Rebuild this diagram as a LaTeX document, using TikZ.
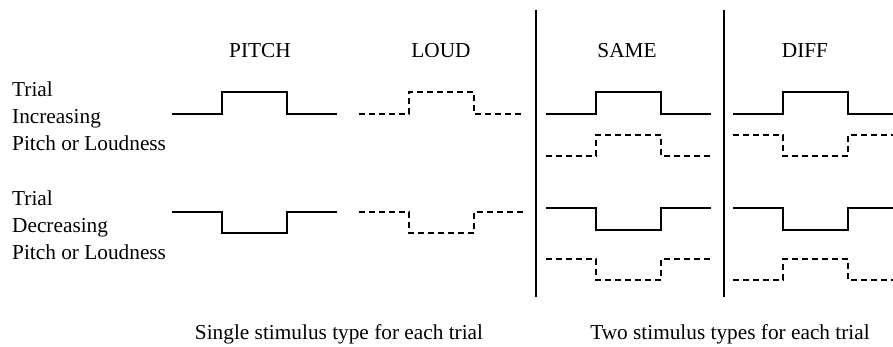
\documentclass[tikz,border=0pt]{standalone}
\usepackage{fontspec}
\setmainfont{Liberation Serif}
\begin{document}
\begin{tikzpicture}[x=1pt,y=-1pt,
  lbl/.style={inner sep=0pt,anchor=base west,font=\fontsize{21.3}{26}\selectfont},
  hdr/.style={inner sep=0pt,anchor=base,font=\fontsize{21.3}{26}\selectfont},
  sig/.style={line width=1.9pt,line join=miter},
  dsig/.style={sig,dash pattern=on 6pt off 4pt},
  divider/.style={line width=2.4pt}]
\clip (0,0) rectangle (893,347);
\fill[white] (0,0) rectangle (893,347);
% headers
\node[hdr] (pitch) at (260,58) {PITCH};
\node[hdr] (loud) at (441,58) {LOUD};
\node[hdr] (same) at (627,58) {SAME};
\node[hdr] (diff) at (805,58) {DIFF};
% row labels
\node[lbl] (t1) at (12,97) {Trial};
\node[lbl] (t2) at (12,124) {Increasing};
\node[lbl] (t3) at (12,151) {Pitch or Loudness};
\node[lbl] (d1) at (12,206) {Trial};
\node[lbl] (d2) at (12,233) {Decreasing};
\node[lbl] (d3) at (12,259) {Pitch or Loudness};
% captions
\node[hdr] (cap1) at (339,339) {Single stimulus type for each trial};
\node[hdr] (cap2) at (730,339) {Two stimulus types for each trial};
% dividers
\coordinate (v1t) at (536,10); \coordinate (v1b) at (536,297);
\coordinate (v2t) at (724,10); \coordinate (v2b) at (724,297);
\draw[divider] (v1t) -- (v1b);
\draw[divider] (v2t) -- (v2b);
% pulses: start x, base y, offset
\newcommand\pulsewave[4]{\draw[#4] (#1,#2) -- ++(50,0) -- ++(0,#3) -- ++(65,0) -- ++(0,-#3) -- ++(50,0);}
% increasing row
\pulsewave{172}{114}{-22}{sig}
\pulsewave{359}{114}{-22}{dsig}
\pulsewave{546}{114}{-22}{sig}
\pulsewave{546}{156}{-21}{dsig}
\pulsewave{733}{114}{-22}{sig}
\pulsewave{733}{135}{21}{dsig}
% decreasing row
\pulsewave{172}{212}{21}{sig}
\pulsewave{359}{212}{21}{dsig}
\pulsewave{546}{208}{22}{sig}
\pulsewave{546}{259}{21}{dsig}
\pulsewave{733}{208}{22}{sig}
\pulsewave{733}{280}{-21}{dsig}
\end{tikzpicture}
\end{document}
